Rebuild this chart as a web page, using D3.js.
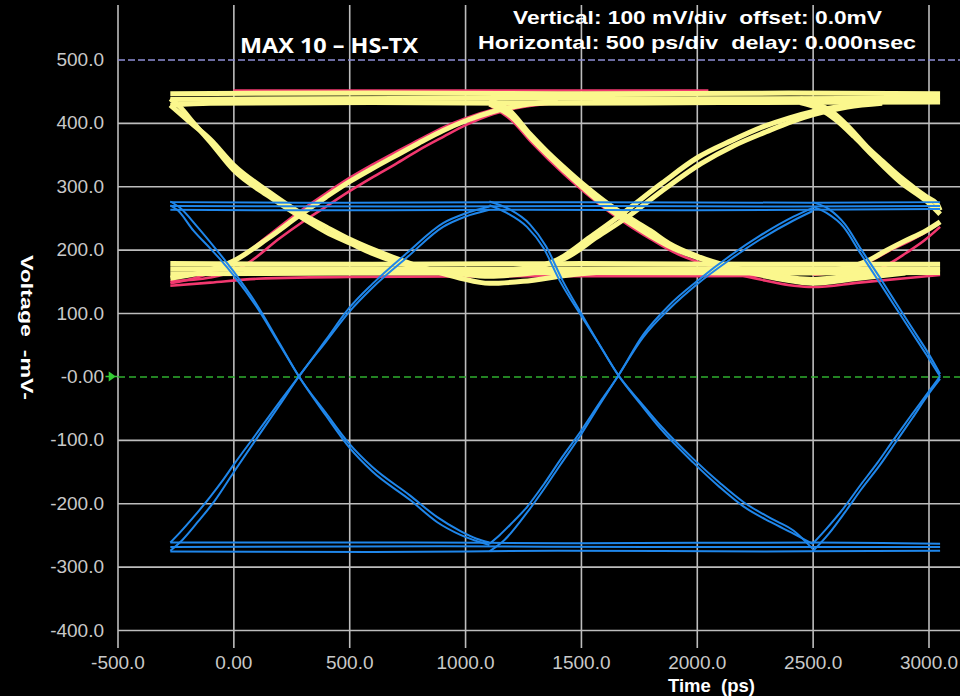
<!DOCTYPE html>
<html><head><meta charset="utf-8">
<script src="https://cdn.jsdelivr.net/npm/d3@7"></script>
<style>
html,body{margin:0;padding:0;background:#000;}
svg{display:block;}
</style></head>
<body>
<svg id="chart" width="960" height="696"></svg>
<script>
// ---------- axis data ----------
const xTicks = [-500, 0, 500, 1000, 1500, 2000, 2500, 3000];
const xTickLabels = ["-500.0", "0.00", "500.0", "1000.0", "1500.0", "2000.0", "2500.0", "3000.0"];
const yTicks = [500, 400, 300, 200, 100, 0, -100, -200, -300, -400];
const yTickLabels = ["500.0", "400.0", "300.0", "200.0", "100.0", "-0.00", "-100.0", "-200.0", "-300.0", "-400.0"];

// ---------- differential (blue) traces: [time ps, mV] ----------
const blueTop1 = [[-272,275],[500,274],[1500,275],[2500,274],[3050,275]];
const blueTop2 = [[-272,269],[800,268],[1600,269],[2400,268],[3050,269]];
const blueTop3 = [[-272,263],[300,262],[1200,263],[2000,262],[3050,264]];
const blueBot1 = [[-272,-262],[700,-262],[1500,-263],[2500,-262],[3050,-264]];
const blueBot2 = [[-272,-269],[900,-268],[1800,-269],[3050,-269]];
const blueBot3 = [[-272,-276],[600,-277],[1400,-275],[2300,-276],[3050,-275]];

const blueRise1a = [[-272,-262],[-230,-246],[-172,-222],[-100,-190],[-50,-166],[0,-140],[100,-90],[200,-40],[283,0],[400,58],[500,108],[600,146],[750,195],[905,242],[1000,257],[1105,268]];
const blueRise1b = [[-272,-275],[-220,-258],[-150,-228],[-80,-196],[0,-152],[100,-98],[200,-45],[283,0],[400,55],[500,102],[600,140],[750,188],[905,236],[1000,252],[1105,263]];
const blueFall1a = [[-272,270],[-240,262],[-172,230],[-100,202],[-50,182],[0,160],[100,110],[200,50],[283,0],[400,-62],[500,-112],[600,-150],[763,-195],[880,-230],[980,-250],[1105,-266]];
const blueFall1b = [[-272,276],[-230,266],[-160,238],[-100,212],[0,166],[100,114],[200,52],[283,0],[400,-58],[500,-106],[600,-143],[763,-188],[880,-222],[980,-244],[1050,-256],[1105,-262]];

const blueRise2a = [[1105,-264],[1150,-250],[1200,-232],[1267,-206],[1340,-170],[1410,-132],[1500,-86],[1580,-42],[1659,0],[1769,66],[1880,112],[2000,150],[2150,192],[2273,222],[2417,252],[2500,266]];
const blueRise2b = [[1105,-276],[1170,-258],[1267,-215],[1340,-178],[1410,-140],[1500,-92],[1580,-45],[1659,0],[1769,62],[1880,106],[2000,145],[2150,186],[2273,216],[2417,246],[2500,261]];
const blueFall2a = [[1105,270],[1180,258],[1267,236],[1338,203],[1410,150],[1497,98],[1580,50],[1665,0],[1760,-45],[1842,-82],[1985,-136],[2100,-175],[2201,-205],[2320,-230],[2417,-248],[2500,-264]];
const blueFall2b = [[1105,276],[1190,264],[1280,240],[1350,205],[1420,152],[1500,100],[1580,50],[1665,0],[1760,-42],[1842,-77],[1985,-130],[2100,-168],[2201,-198],[2320,-224],[2417,-243],[2500,-272]];

const blueRise3a = [[2500,-264],[2560,-240],[2633,-208],[2705,-172],[2780,-136],[2849,-100],[2920,-64],[2993,-28],[3050,0]];
const blueRise3b = [[2500,-276],[2570,-248],[2640,-214],[2710,-178],[2790,-140],[2860,-103],[2930,-66],[3000,-28],[3050,-4]];
const blueFall3a = [[2500,268],[2560,258],[2633,236],[2705,195],[2780,153],[2849,114],[2920,74],[2993,33],[3050,0]];
const blueFall3b = [[2500,275],[2570,264],[2640,240],[2710,200],[2790,156],[2860,116],[2930,76],[3000,36],[3050,4]];

// ---------- single-ended (yellow) traces ----------
const yelTop1 = [[-272,446],[600,447],[1500,446],[2400,447],[3050,446]];
const yelTop2 = [[-272,437],[400,438],[1200,439],[2000,438],[3050,439]];
const yelTop3 = [[-272,428],[-100,431],[600,432],[1300,431],[2100,432],[3050,433]];
const yelBot1 = [[-272,178],[600,177],[1500,178],[2400,177],[3050,177]];
const yelBot2 = [[-272,170],[1000,169],[2000,170],[3050,169]];
const yelBot3 = [[-272,162],[500,163],[1500,164],[2500,163],[3050,164]];

const yelFall1a = [[-272,438],[-230,425],[-172,400],[-100,370],[0,326],[150,285],[289,252],[400,228],[505,210],[600,194],[690,182],[800,172],[980,162],[1105,158],[1300,164]];
const yelFall1b = [[-272,428],[-200,405],[-100,374],[0,334],[150,292],[289,258],[400,236],[505,216],[690,188],[850,168],[980,155],[1105,147],[1250,150],[1450,160],[1600,165]];
const yelRise1 = [[-272,155],[-150,163],[0,182],[150,218],[289,255],[400,283],[505,308],[600,328],[690,346],[800,368],[906,388],[1000,403],[1122,418],[1250,428],[1400,434]];
const yelFall2a = [[1105,436],[1190,420],[1281,382],[1350,356],[1423,331],[1520,300],[1614,273],[1700,252],[1800,230],[1880,210],[2000,190],[2158,172],[2300,161],[2400,156],[2500,153],[2650,158],[2800,165]];
const yelFall2b = [[1105,430],[1200,410],[1290,374],[1430,324],[1614,266],[1700,245],[1800,222],[1900,202],[2050,182],[2158,170],[2300,158],[2420,150],[2500,147],[2700,155],[2900,163]];
const yelRise2a = [[1105,160],[1250,168],[1398,184],[1540,220],[1683,258],[1850,305],[2002,345],[2150,372],[2287,394],[2400,408],[2503,418],[2650,428],[2800,433]];
const yelRise2b = [[1105,166],[1300,173],[1430,186],[1570,220],[1710,254],[1870,298],[2020,336],[2160,364],[2300,386],[2410,402],[2503,413],[2650,425],[2800,431]];
const yelFall3a = [[2446,438],[2520,430],[2589,416],[2660,392],[2735,362],[2800,340],[2877,315],[2940,297],[2993,283],[3037,272],[3050,262]];
const yelFall3b = [[2446,432],[2530,422],[2600,405],[2680,378],[2760,348],[2877,307],[2993,276],[3050,256]];
const yelRise3 = [[2500,165],[2650,172],[2735,182],[2820,199],[2900,214],[2980,228],[3050,244]];

// ---------- single-ended (pink) traces ----------
const pinkTop = [[0,451],[2050,451]];
const pinkBot = [[-272,143],[-100,148],[100,154],[500,157],[1200,158],[2000,158],[2400,159]];
const pinkRise1a = [[-272,147],[-150,157],[-50,170],[0,180],[150,222],[289,261],[400,289],[505,314],[600,334],[690,352],[800,373],[906,393],[1000,407],[1122,421],[1250,430],[1400,436]];
const pinkRise1b = [[-272,150],[-100,156],[0,166],[60,178],[200,218],[300,244],[400,268],[505,293],[600,314],[700,335],[800,357],[906,378],[1000,396],[1122,414],[1250,425],[1400,432]];
const pinkFall2 = [[1105,428],[1200,404],[1290,368],[1430,318],[1614,262],[1700,240],[1800,217],[1900,196],[2050,175],[2158,163],[2300,151],[2420,143],[2500,141],[2700,148],[2900,155],[3050,160]];
const pinkRise3a = [[2500,160],[2620,166],[2700,174],[2760,184],[2840,200],[2920,214],[3000,230],[3050,242]];
const pinkRise3b = [[2700,163],[2790,170],[2836,179],[2900,194],[2980,214],[3050,236]];

const pinkTraces = [pinkBot, pinkTop, pinkRise1a, pinkRise1b, pinkFall2, pinkRise3a, pinkRise3b];
const yellowTraces = [yelTop1, yelTop2, yelTop3, yelBot1, yelBot2, yelBot3,
  yelFall1a, yelFall1b, yelRise1, yelFall2a, yelFall2b, yelRise2a, yelRise2b, yelFall3a, yelFall3b, yelRise3];
const blueTraces = [blueTop1, blueTop2, blueTop3, blueBot1, blueBot2, blueBot3,
  blueRise1a, blueRise1b, blueFall1a, blueFall1b, blueRise2a, blueRise2b, blueFall2a, blueFall2b,
  blueRise3a, blueRise3b, blueFall3a, blueFall3b];

// ---------- drawing ----------
const svg = d3.select("#chart");
svg.append("rect").attr("width", 960).attr("height", 696).attr("fill", "#000");

const x = d3.scaleLinear().domain([-500, 3000]).range([117.5, 928.5]);
const y = d3.scaleLinear().domain([-400, 500]).range([630, 59.5]);

const gridColor = "#bdbdbd";
const tickFont = "'Liberation Sans', Arial, sans-serif";

// vertical grid + x tick labels
const xAxis = d3.axisBottom(x).tickValues(xTicks).tickFormat((d, i) => xTickLabels[i])
  .tickSizeInner(-643).tickSizeOuter(0).tickPadding(8);
const gx = svg.append("g").attr("transform", "translate(0,648)").call(xAxis);
gx.select(".domain").remove();
gx.selectAll(".tick line").attr("stroke", gridColor).attr("stroke-width", 1.6);
gx.selectAll(".tick text").attr("fill", "#c9c9c9").attr("font-size", 19).attr("font-family", tickFont);

// horizontal grid + y tick labels
const yAxis = d3.axisLeft(y).tickValues(yTicks).tickFormat((d, i) => yTickLabels[i])
  .tickSizeInner(-(960 - 118)).tickSizeOuter(0).tickPadding(14);
const gy = svg.append("g").attr("transform", "translate(118,0)").call(yAxis);
gy.select(".domain").remove();
gy.selectAll(".tick line").attr("stroke", gridColor).attr("stroke-width", 1.6);
gy.selectAll(".tick text").attr("fill", "#c9c9c9").attr("font-size", 19).attr("font-family", tickFont);
gy.selectAll(".tick").filter(d => d === 500).select("line")
  .attr("stroke", "#8f8fd6").attr("stroke-width", 1.4).attr("stroke-dasharray", "7,3");
gy.selectAll(".tick").filter(d => d === 0).select("line")
  .attr("stroke", "#2fae2f").attr("stroke-width", 1.4).attr("stroke-dasharray", "7,4");

// green zero marker arrow
svg.append("path")
  .attr("d", `M${x(-500) - 12},${y(0)} L${x(-500)},${y(0)} M${x(-500) - 8},${y(0) - 3.5} L${x(-500) - 3},${y(0)} L${x(-500) - 8},${y(0) + 3.5} Z`)
  .attr("stroke", "#33cc33").attr("stroke-width", 1.6).attr("fill", "#33cc33");

// traces
const line = d3.line().x(d => x(d[0])).y(d => y(d[1])).curve(d3.curveMonotoneX);
const traces = svg.append("g").attr("fill", "none").attr("stroke-linecap", "butt").attr("stroke-linejoin", "round");
traces.selectAll("path.pink").data(pinkTraces).join("path").attr("class", "pink")
  .attr("d", line).attr("stroke", "#f2386f").attr("stroke-width", 2.6);
traces.selectAll("path.yel").data(yellowTraces).join("path").attr("class", "yel")
  .attr("d", line).attr("stroke", "#fbf78d").attr("stroke-width", 5);
traces.selectAll("path.blue").data(blueTraces).join("path").attr("class", "blue")
  .attr("d", line).attr("stroke", "#1f86ea").attr("stroke-width", 2);

// texts
const boldFont = "'Liberation Sans', Arial, sans-serif";
svg.append("text").attr("x", 240).attr("y", 53).attr("fill", "#fff").attr("font-family", "'Open Sans', sans-serif")
  .attr("font-weight", "bold").attr("font-size", 22).attr("textLength", 178).attr("lengthAdjust", "spacingAndGlyphs")
  .text("MAX 10 – HS-TX");
svg.append("text").attr("x", 513).attr("y", 24).attr("fill", "#fff").attr("font-family", boldFont)
  .attr("font-weight", "bold").attr("font-size", 19).attr("textLength", 369).attr("lengthAdjust", "spacingAndGlyphs")
  .style("white-space", "pre")
  .text("Vertical: 100 mV/div  offset: 0.0mV");
svg.append("text").attr("x", 478).attr("y", 49).attr("fill", "#fff").attr("font-family", boldFont)
  .attr("font-weight", "bold").attr("font-size", 19).attr("textLength", 438).attr("lengthAdjust", "spacingAndGlyphs")
  .style("white-space", "pre")
  .text("Horizontal: 500 ps/div  delay: 0.000nsec");
svg.append("text").attr("x", 668).attr("y", 692).attr("fill", "#fff").attr("font-family", boldFont)
  .attr("font-weight", "bold").attr("font-size", 19).attr("textLength", 87).attr("lengthAdjust", "spacingAndGlyphs")
  .style("white-space", "pre")
  .text("Time  (ps)");
svg.append("text").attr("transform", "translate(21,255) rotate(90)").attr("fill", "#fff").attr("font-family", boldFont)
  .attr("font-weight", "bold").attr("font-size", 17).attr("textLength", 145).attr("lengthAdjust", "spacingAndGlyphs")
  .style("white-space", "pre")
  .text("Voltage  -mV-");
</script>
</body></html>
